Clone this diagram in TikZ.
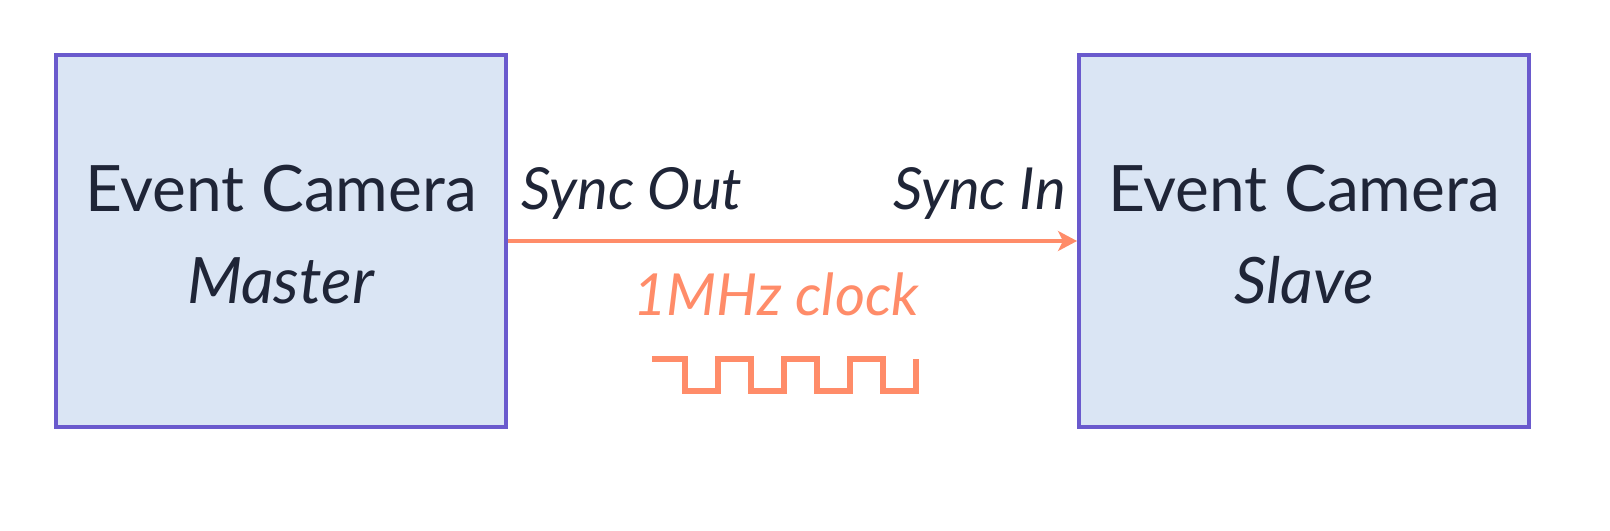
\documentclass[tikz,border=0pt]{standalone}
\usepackage{fontspec}
\setmainfont{Lato}
\usepackage{tikz}
\usetikzlibrary{arrows.meta}

\definecolor{camfill}{RGB}{218,229,244}
\definecolor{camline}{RGB}{106,90,205}
\definecolor{camtext}{RGB}{31,37,55}
\definecolor{clockcol}{RGB}{255,140,105}

\begin{document}
\begin{tikzpicture}[x=0.5pt, y=-0.5pt,
    camera/.style={draw=camline, fill=camfill, line width=2pt, text=camtext,
        minimum width=225pt, minimum height=186pt, inner sep=0pt, align=center,
        font=\fontsize{32}{46}\selectfont},
    port/.style={text=camtext, inner sep=0pt, font=\fontsize{29}{34}\selectfont\itshape},
    clock/.style={draw=clockcol, line width=1.6pt, -{Stealth[length=9.5pt, width=10pt, inset=2.5pt]}}]
			\useasboundingbox (0,0) rectangle (1610,530);
			
			\node[camera] (master) at (281, 241) {Event Camera\\\textit{Master}\rule[-7pt]{0pt}{0pt}};
			\node[camera] (slave) at (1304, 241) {Event Camera\\\textit{Slave}\rule[-7pt]{0pt}{0pt}};
			
			\node[port, anchor=base west] (syncout) at (521, 209) {Sync Out};
			\node[port, anchor=base east] (syncin) at (1066, 209) {Sync In};
			\node[port, anchor=base, text=clockcol] (freq) at (776, 315) {1MHz clock};
			
			\draw[clock] (master) to (slave);
			
			\coordinate (wave) at (652, 359);
			\draw[clockcol, line width=2.6pt, line join=miter] (wave) -- ++(33,0) -- ++(0,32) -- ++(33,0) -- ++(0,-32)
			    -- ++(33,0) -- ++(0,32) -- ++(33,0) -- ++(0,-32) -- ++(33,0) -- ++(0,32) -- ++(33,0) -- ++(0,-32)
			    -- ++(33,0) -- ++(0,32) -- ++(33,0) -- ++(0,-32);
\end{tikzpicture}
\end{document}
